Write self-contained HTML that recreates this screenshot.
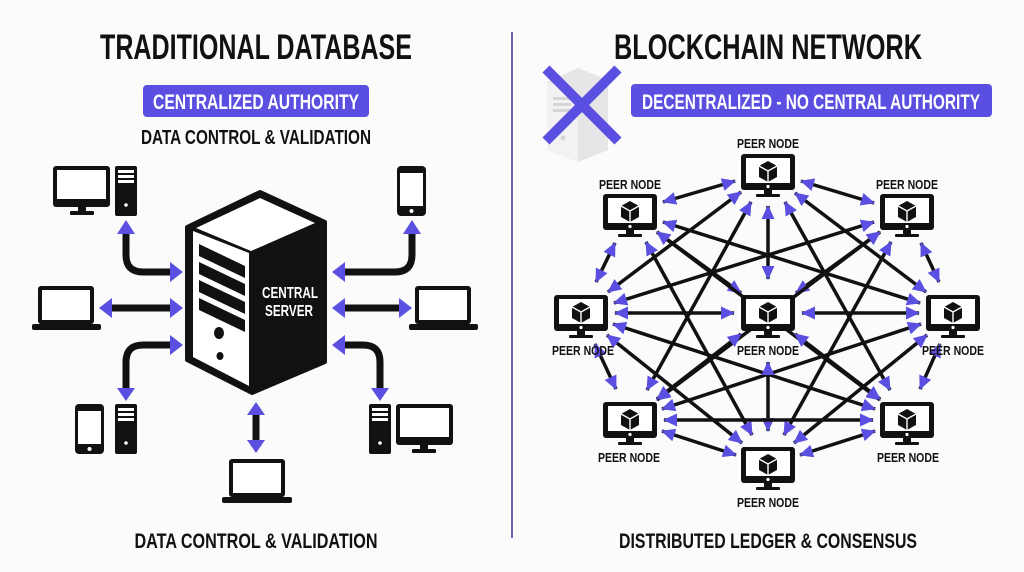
<!DOCTYPE html>
<html><head><meta charset="utf-8"><style>
html,body{margin:0;padding:0;background:#fbfbfc;}
svg{display:block;}
text{font-family:"Liberation Sans Narrow","Liberation Sans",sans-serif;font-weight:bold;}
</style></head><body>
<svg width="1024" height="572" viewBox="0 0 1024 572" xmlns="http://www.w3.org/2000/svg">
<defs>
<marker id="ah" markerUnits="userSpaceOnUse" markerWidth="15" markerHeight="15" refX="13" refY="6.5" orient="auto-start-reverse" viewBox="0 0 15 13">
<path d="M0,0 L14,6.5 L0,13 z" fill="#5a4fe0"/>
</marker>
<g id="mon">
<rect x="-27" y="-18" width="54" height="36" rx="3" fill="#111"/>
<rect x="-22" y="-14" width="44" height="25" fill="#fff"/>
<circle cx="0" cy="14.5" r="1.6" fill="#fff"/>
<rect x="-4" y="18" width="8" height="5" fill="#111"/>
<rect x="-12" y="22" width="24" height="3" rx="1" fill="#111"/>
<path d="M0,-11 L9,-6 L9,5 L0,10 L-9,5 L-9,-6 z" fill="#111"/>
<path d="M-9,-6 L0,-1 L9,-6 M0,-1 L0,10" stroke="#fff" stroke-width="1.4" fill="none"/>
</g>
</defs>

<line x1="512" y1="32" x2="512" y2="538" stroke="#6a63b8" stroke-width="2"/>

<text x="256" y="59" font-size="35" text-anchor="middle" textLength="312" lengthAdjust="spacingAndGlyphs" fill="#111">TRADITIONAL DATABASE</text>
<rect x="143" y="85" width="226" height="32" rx="4" fill="#5a4fe0"/>
<text x="256" y="109" font-size="21" text-anchor="middle" textLength="206" lengthAdjust="spacingAndGlyphs" fill="#fff">CENTRALIZED AUTHORITY</text>
<text x="256" y="144" font-size="20" text-anchor="middle" textLength="230" lengthAdjust="spacingAndGlyphs" fill="#111">DATA CONTROL &amp; VALIDATION</text>
<text x="256" y="548" font-size="21" text-anchor="middle" textLength="243" lengthAdjust="spacingAndGlyphs" fill="#111">DATA CONTROL &amp; VALIDATION</text>

<path d="M187,227 L260,192 L325,222 L325,362 L252,393 L187,360 z" fill="#111" stroke="#111" stroke-width="4" stroke-linejoin="round"/>
<path d="M193,231 L193,357 L249,386 L249,253 z" fill="#fff"/>
<path d="M196,228 L260,198 L315,223 L251,251 z" fill="#fff"/>
<path d="M199,244 L245,266 L245,278 L199,256 z M199,262 L245,284 L245,296 L199,274 z M199,280 L245,302 L245,314 L199,292 z M199,298 L245,320 L245,332 L199,310 z" fill="#111"/>
<ellipse cx="219" cy="333" rx="5" ry="6" fill="#111"/>
<ellipse cx="220" cy="356" rx="3.5" ry="4" fill="#111"/>
<text x="290" y="298" font-size="16" text-anchor="middle" textLength="56" lengthAdjust="spacingAndGlyphs" fill="#fff">CENTRAL</text>
<text x="289" y="316" font-size="16" text-anchor="middle" textLength="48" lengthAdjust="spacingAndGlyphs" fill="#fff">SERVER</text>

<g stroke="#111" stroke-width="7" fill="none">
<path d="M126,232 V255 Q126,272 143,272 H172"/>
<path d="M110,308 H172"/>
<path d="M172,345 H143 Q126,345 126,362 V390"/>
<path d="M412,232 V255 Q412,272 395,272 H343"/>
<path d="M343,308 H401"/>
<path d="M343,345 H363 Q380,345 380,362 V390"/>
<path d="M256,413 V442"/>
</g>
<g fill="#5a4fe0">
<path d="M117,234 L126,220 L135,234 z"/>
<path d="M170,262 L183,272 L170,282 z"/>
<path d="M112,298 L99,308 L112,318 z"/>
<path d="M170,298 L183,308 L170,318 z"/>
<path d="M170,335 L183,345 L170,355 z"/>
<path d="M117,388 L126,401 L135,388 z"/>
<path d="M403,234 L412,220 L421,234 z"/>
<path d="M345,262 L332,272 L345,282 z"/>
<path d="M345,298 L332,308 L345,318 z"/>
<path d="M399,298 L412,308 L399,318 z"/>
<path d="M345,335 L332,345 L345,355 z"/>
<path d="M371,388 L380,401 L389,388 z"/>
<path d="M247,415 L256,402 L265,415 z"/>
<path d="M247,440 L256,453 L265,440 z"/>
</g>

<g fill="#111">
<rect x="53" y="166" width="57" height="41" rx="3"/>
<rect x="57" y="170" width="49" height="29" fill="#fff"/>
<rect x="78" y="206" width="8" height="6"/><rect x="70" y="211" width="24" height="4" rx="1"/>
<rect x="115" y="166" width="22" height="50" rx="2"/>
<rect x="118" y="170" width="16" height="3" fill="#fff"/><rect x="118" y="175" width="16" height="3" fill="#fff"/><rect x="118" y="180" width="16" height="3" fill="#fff"/>
<circle cx="126" cy="205" r="1.8" fill="#fff"/>
<rect x="397" y="166" width="29" height="50" rx="4"/>
<rect x="400" y="173" width="23" height="33" fill="#fff"/>
<circle cx="411.5" cy="211" r="2" fill="#fff"/>
<rect x="38" y="286" width="56" height="38" rx="3"/>
<rect x="42" y="290" width="48" height="30" fill="#fff"/>
<rect x="32" y="324" width="69" height="6" rx="2"/>
<rect x="415" y="286" width="56" height="38" rx="3"/>
<rect x="419" y="290" width="48" height="30" fill="#fff"/>
<rect x="409" y="324" width="69" height="6" rx="2"/>
<rect x="75" y="404" width="29" height="50" rx="4"/>
<rect x="78" y="411" width="23" height="33" fill="#fff"/>
<circle cx="89.5" cy="449" r="2" fill="#fff"/>
<rect x="115" y="404" width="22" height="50" rx="2"/>
<rect x="118" y="408" width="16" height="3" fill="#fff"/><rect x="118" y="413" width="16" height="3" fill="#fff"/><rect x="118" y="418" width="16" height="3" fill="#fff"/>
<circle cx="126" cy="443" r="1.8" fill="#fff"/>
<rect x="369" y="404" width="22" height="50" rx="2"/>
<rect x="372" y="408" width="16" height="3" fill="#fff"/><rect x="372" y="413" width="16" height="3" fill="#fff"/><rect x="372" y="418" width="16" height="3" fill="#fff"/>
<circle cx="380" cy="443" r="1.8" fill="#fff"/>
<rect x="396" y="404" width="57" height="41" rx="3"/>
<rect x="400" y="408" width="49" height="29" fill="#fff"/>
<rect x="420" y="444" width="8" height="6"/><rect x="412" y="449" width="24" height="4" rx="1"/>
<rect x="229" y="459" width="56" height="38" rx="3"/>
<rect x="233" y="463" width="48" height="30" fill="#fff"/>
<rect x="222" y="497" width="70" height="6" rx="2"/>
</g>

<text x="768" y="59" font-size="35" text-anchor="middle" textLength="308" lengthAdjust="spacingAndGlyphs" fill="#111">BLOCKCHAIN NETWORK</text>
<g opacity="0.9">
<path d="M547,82 L578,68 L608,80 L608,150 L578,162 L547,150 z" fill="#e4e4e8"/>
<path d="M547,82 L578,96 L578,162 L547,150 z" fill="#f2f2f4"/>
<rect x="553" y="97" width="18" height="3" fill="#d2d2d6"/><rect x="553" y="103" width="18" height="3" fill="#d2d2d6"/><rect x="553" y="109" width="18" height="3" fill="#d2d2d6"/>
<circle cx="563" cy="138" r="2.5" fill="#d2d2d6"/>
</g>
<path d="M546,69 L618,141 M618,69 L546,141" stroke="#5a4fe0" stroke-width="10"/>
<rect x="631" y="84" width="361" height="33" rx="4" fill="#5a4fe0"/>
<text x="811" y="109" font-size="21" text-anchor="middle" textLength="338" lengthAdjust="spacingAndGlyphs" fill="#fff">DECENTRALIZED - NO CENTRAL AUTHORITY</text>
<text x="768" y="548" font-size="21" text-anchor="middle" textLength="298" lengthAdjust="spacingAndGlyphs" fill="#111">DISTRIBUTED LEDGER &amp; CONSENSUS</text>

<g stroke="#111" stroke-width="3.5" marker-start="url(#ah)" marker-end="url(#ah)">
<line x1="735" y1="181" x2="663" y2="202"/>
<line x1="801" y1="181" x2="874" y2="203"/>
<line x1="768" y1="206" x2="768" y2="279"/>
<line x1="741" y1="192" x2="608" y2="292"/>
<line x1="795" y1="193" x2="926" y2="292"/>
<line x1="751" y1="202" x2="647" y2="390"/>
<line x1="785" y1="202" x2="890" y2="390"/>
<line x1="657" y1="232" x2="741" y2="293"/>
<line x1="615" y1="243" x2="596" y2="282"/>
<line x1="663" y1="222" x2="920" y2="303"/>
<line x1="657" y1="232" x2="880" y2="400"/>
<line x1="646" y1="242" x2="752" y2="435"/>
<line x1="880" y1="232" x2="796" y2="293"/>
<line x1="921" y1="243" x2="939" y2="282"/>
<line x1="874" y1="222" x2="614" y2="303"/>
<line x1="880" y1="232" x2="657" y2="400"/>
<line x1="891" y1="242" x2="784" y2="435"/>
<line x1="615" y1="313" x2="734" y2="313"/>
<line x1="595" y1="344" x2="616" y2="389"/>
<line x1="613" y1="324" x2="875" y2="409"/>
<line x1="607" y1="335" x2="742" y2="443"/>
<line x1="802" y1="313" x2="919" y2="313"/>
<line x1="940" y1="344" x2="920" y2="389"/>
<line x1="921" y1="324" x2="662" y2="409"/>
<line x1="927" y1="335" x2="794" y2="443"/>
<line x1="741" y1="334" x2="657" y2="399"/>
<line x1="795" y1="334" x2="880" y2="399"/>
<line x1="768" y1="362" x2="768" y2="431"/>
<line x1="664" y1="420" x2="873" y2="420"/>
<line x1="662" y1="431" x2="736" y2="455"/>
<line x1="875" y1="431" x2="800" y2="455"/>
</g>

<use href="#mon" x="768" y="172"/>
<use href="#mon" x="630" y="212"/>
<use href="#mon" x="907" y="212"/>
<use href="#mon" x="581" y="313"/>
<use href="#mon" x="768" y="313"/>
<use href="#mon" x="953" y="313"/>
<use href="#mon" x="630" y="420"/>
<use href="#mon" x="907" y="420"/>
<use href="#mon" x="768" y="465"/>

<g font-size="13" text-anchor="middle" fill="#111">
<text x="768" y="148" textLength="62" lengthAdjust="spacingAndGlyphs">PEER NODE</text>
<text x="630" y="189" textLength="62" lengthAdjust="spacingAndGlyphs">PEER NODE</text>
<text x="907" y="189" textLength="62" lengthAdjust="spacingAndGlyphs">PEER NODE</text>
<text x="583" y="355" textLength="62" lengthAdjust="spacingAndGlyphs">PEER NODE</text>
<text x="768" y="355" textLength="62" lengthAdjust="spacingAndGlyphs">PEER NODE</text>
<text x="953" y="355" textLength="62" lengthAdjust="spacingAndGlyphs">PEER NODE</text>
<text x="629" y="462" textLength="62" lengthAdjust="spacingAndGlyphs">PEER NODE</text>
<text x="908" y="462" textLength="62" lengthAdjust="spacingAndGlyphs">PEER NODE</text>
<text x="768" y="507" textLength="62" lengthAdjust="spacingAndGlyphs">PEER NODE</text>
</g>
</svg>
</body></html>
